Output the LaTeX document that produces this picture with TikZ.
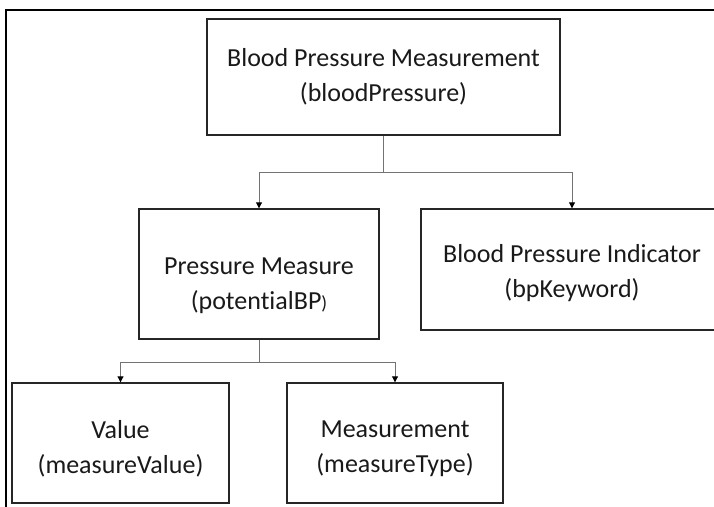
\documentclass[tikz,border=0pt]{standalone}
\usepackage{fontspec}
\setmainfont{Carlito}[Ligatures={NoCommon}]
\usetikzlibrary{arrows.meta}
\begin{document}
\begin{tikzpicture}[x=1pt,y=-1pt,
  box/.style={draw=black!85,line width=1.4pt,rectangle,inner sep=0pt},
  txt/.style={align=center,font=\fontsize{26}{35}\selectfont,text=black!90,inner sep=0pt},
  conn/.style={draw=black!55,line width=0.9pt},
  tip/.style={-{Triangle[length=6pt,width=6pt,color=black]}}]
\useasboundingbox (0,0) rectangle (714,506);
\clip (0,0) rectangle (714,506);
% outer frame
\draw[line width=2.6pt,black] (6,1000) -- (6,10) -- (1000,10);
% boxes
\node[box,minimum width=353pt,minimum height=116pt] (top) at (383.5,77) {};
\node[box,minimum width=240pt,minimum height=130pt] (ml) at (259,274) {};
\node[box,minimum width=302pt,minimum height=121pt] (mr) at (572,269.5) {};
\node[box,minimum width=217pt,minimum height=120pt] (bl) at (120.5,443) {};
\node[box,minimum width=216pt,minimum height=120pt] (br) at (395,443) {};
% labels
\node[txt] (ttop) at (383.5,77) {Blood Pressure Measurement\\(bloodPressure)};
\node[txt] (tml) at (259,286) {Pressure Measure\\(potentialBP{\fontsize{19}{19}\selectfont)}};
\node[txt] (tmr) at (572,273.5) {Blood Pressure Indicator\\(bpKeyword)};
\node[txt] (tbl) at (120.5,448.5) {Value\\(measureValue)};
\node[txt] (tbr) at (395,448.5) {Measurement\\(measureType)};
% connectors
\coordinate (bus1) at (top.south |- 0,172);
\coordinate (bus2) at (ml.south |- 0,362);
\draw[conn] (top.south) -- (bus1);
\draw[conn,tip] (bus1) -| (ml.north);
\draw[conn,tip] (bus1) -| (mr.north);
\draw[conn] (ml.south) -- (bus2);
\draw[conn,tip] (bus2) -| (bl.north);
\draw[conn,tip] (bus2) -| (br.north);
\end{tikzpicture}
\end{document}
